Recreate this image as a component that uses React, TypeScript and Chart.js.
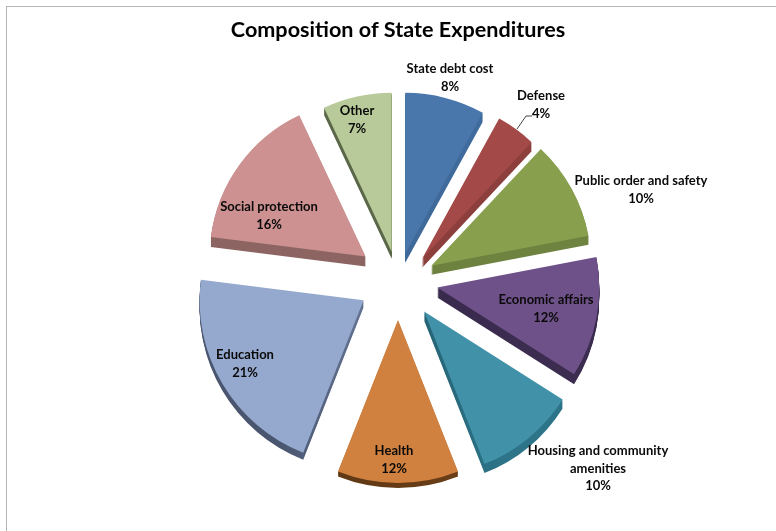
import React, { useEffect, useRef } from "react";
import { Chart, registerables } from "chart.js";

Chart.register(...registerables);

const CHART_TITLE = "Composition of State Expenditures";
const FONT_FAMILY = "Lato, 'Open Sans', sans-serif";

const categories = [
  "State debt cost",
  "Defense",
  "Public order and safety",
  "Economic affairs",
  "Housing and community amenities",
  "Health",
  "Education",
  "Social protection",
  "Other",
];
const sharePercent = [8, 4, 10, 12, 10, 12, 21, 16, 7];

const faceColors = ["#4A77AB", "#A34A48", "#88A04E", "#6F5189", "#4192A9", "#D1813F", "#94A9CD", "#CC9190", "#B8CA99"];
const wallColorsLeft = ["#3E6692", "#8A3D3B", "#6C7F3E", "#372949", "#1E5564", "#5E3714", "#4A566F", "#8C6462", "#5A6748"];
const wallColorsRight = ["#3F6C9E", "#8C3F3D", "#6F8341", "#3B2C50", "#2D7488", "#6B3F18", "#7D90B8", "#8C6462", "#5A6748"];

// Slice explosion: radial pull from the centre, a downward drift from the tilted view,
// the foreshortened radius of each slice, and the height of its side wall.
const explodeDistance = [29, 41, 38, 40, 41, 40, 40, 40, 29];
const tiltDrift = [2, 12, 4, 0, 0, 0, 0, 0, 0];
const sliceRadius = [161, 160, 160, 162, 164, 163, 164, 156, 159];
const wallDepth = [9, 9, 9, 10, 9, 5, 7, 10, 7];

// Centre of each text block, one line break per array entry.
const labelLines = [
  ["State debt cost"],
  ["Defense"],
  ["Public order and safety"],
  ["Economic affairs"],
  ["Housing and community", "amenities"],
  ["Health"],
  ["Education"],
  ["Social protection"],
  ["Other"],
];
const labelAnchors: [number, number][] = [
  [450, 69],
  [541, 96],
  [641, 181],
  [546, 300],
  [598, 451],
  [394, 451],
  [245, 355],
  [269, 207],
  [357, 111],
];
const LABEL_LINE_HEIGHT = 17.5;

const explodedPie = {
  id: "explodedPie",
  afterDatasetsUpdate(chart: Chart) {
    chart.getDatasetMeta(0).data.forEach((arc: any, i: number) => {
      const mid = (arc.startAngle + arc.endAngle) / 2;
      arc.x += Math.cos(mid) * explodeDistance[i];
      arc.y += Math.sin(mid) * explodeDistance[i] + tiltDrift[i];
      arc.outerRadius = sliceRadius[i];
    });
  },
  // Side walls sit underneath the slice faces: the face outline is stacked downwards.
  beforeDatasetsDraw(chart: Chart) {
    const { ctx } = chart;
    chart.getDatasetMeta(0).data.forEach((arc: any, i: number) => {
      const wall = ctx.createLinearGradient(arc.x - arc.outerRadius, 0, arc.x + arc.outerRadius, 0);
      wall.addColorStop(0.25, wallColorsLeft[i]);
      wall.addColorStop(0.75, wallColorsRight[i]);
      ctx.save();
      ctx.fillStyle = wall;
      for (let k = 1; k <= wallDepth[i]; k++) {
        ctx.beginPath();
        ctx.moveTo(arc.x, arc.y + k);
        ctx.arc(arc.x, arc.y + k, arc.outerRadius, arc.startAngle, arc.endAngle);
        ctx.closePath();
        ctx.fill();
      }
      ctx.restore();
    });
  },
  afterDatasetsDraw(chart: Chart) {
    const { ctx } = chart;
    ctx.save();
    // Leader line from the Defense label to its slice.
    ctx.strokeStyle = "#444444";
    ctx.lineWidth = 1;
    ctx.beginPath();
    ctx.moveTo(532, 116);
    ctx.lineTo(526, 116);
    ctx.lineTo(517, 129);
    ctx.stroke();

    ctx.fillStyle = "#0a0a0a";
    ctx.font = `bold 13px ${FONT_FAMILY}`;
    ctx.textAlign = "center";
    ctx.textBaseline = "middle";
    categories.forEach((_, i) => {
      const lines = [...labelLines[i], `${sharePercent[i]}%`];
      const [x, y] = labelAnchors[i];
      lines.forEach((line, n) => ctx.fillText(line, x, y + n * LABEL_LINE_HEIGHT));
    });
    ctx.restore();
  },
};

export default function App() {
  const canvasRef = useRef<HTMLCanvasElement>(null);

  useEffect(() => {
    if (!canvasRef.current) return;
    const chart = new Chart(canvasRef.current, {
      type: "pie",
      data: {
        labels: categories,
        datasets: [
          {
            data: sharePercent,
            backgroundColor: faceColors,
            borderWidth: 0,
          },
        ],
      },
      options: {
        responsive: false,
        animation: false,
        radius: 162,
        layout: { padding: { left: 20, bottom: 14 } },
        plugins: {
          legend: { display: false },
          tooltip: { enabled: false },
          title: {
            display: true,
            text: CHART_TITLE,
            color: "#000000",
            font: { family: FONT_FAMILY, size: 21.6, weight: "bold" },
            padding: { top: 17, bottom: 0 },
          },
        },
      } as any,
      plugins: [explodedPie],
    });
    return () => chart.destroy();
  }, []);

  return (
    <div style={{ position: "absolute", left: 0, top: 0, width: 776, height: 531, background: "#ffffff", overflow: "hidden" }}>
      <div
        style={{
          position: "absolute",
          left: 6,
          top: 6,
          right: 0,
          bottom: 0,
          borderTop: "1px solid #b5b5b5",
          borderLeft: "1px solid #b5b5b5",
        }}
      />
      <canvas ref={canvasRef} width={776} height={531} style={{ position: "absolute", left: 0, top: 0, display: "block" }} />
    </div>
  );
}
